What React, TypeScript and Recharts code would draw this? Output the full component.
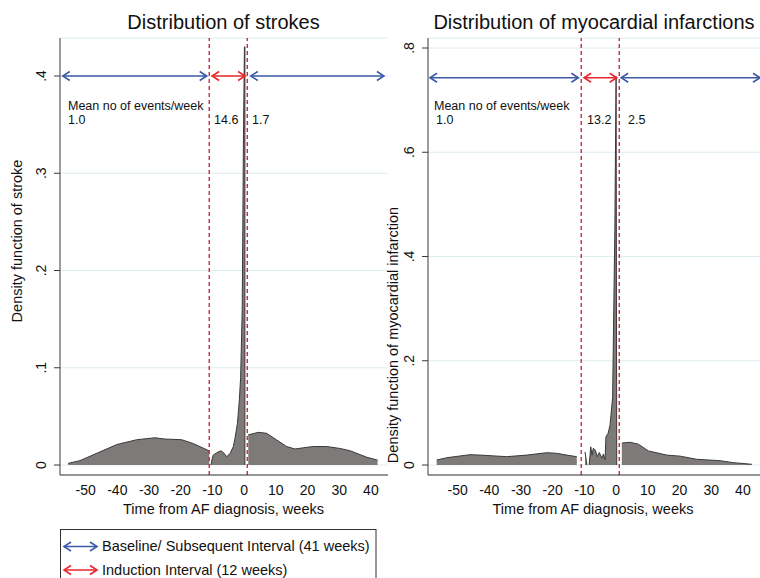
import React from "react";
import { ComposedChart, Area, XAxis, YAxis, CartesianGrid, ReferenceLine } from "recharts";

// ---------- data ----------
const weekTicks = [-50, -40, -30, -20, -10, 0, 10, 20, 30, 40];
const strokeTicks = [0, 0.1, 0.2, 0.3, 0.4];
const miTicks = [0, 0.2, 0.4, 0.6, 0.8];

// Stroke density, baseline interval
const strokeBaseWeeks = [-55.5, -51.8, -46.5, -40.2, -33.9, -28.1, -25, -19.7, -16, -11];
const strokeBaseDensity = [0.0017, 0.0045, 0.012, 0.021, 0.026, 0.028, 0.0267, 0.026, 0.022, 0.0145];
// Stroke density, induction interval
const strokeIndWeeks = [-10.5, -9.8, -8.6, -7.3, -6.3, -5.5, -4.4, -3.4, -2.9, -2.1, -1.5, -1.1, -0.6, -0.2, 0.1, 0.25, 0.25];
const strokeIndDensity = [0, 0.01, 0.0127, 0.0147, 0.012, 0.0085, 0.012, 0.019, 0.027, 0.043, 0.067, 0.09, 0.16, 0.34, 0.43, 0.43, 0];
// Stroke density, subsequent interval
const strokeSubWeeks = [1.3, 4.5, 7.1, 10.3, 13.4, 16, 21.8, 26, 30.3, 33.4, 38.7, 42.1];
const strokeSubDensity = [0.031, 0.0336, 0.0326, 0.0257, 0.019, 0.0165, 0.019, 0.019, 0.017, 0.0147, 0.008, 0.005];

// MI density, baseline interval
const miBaseWeeks = [-56.6, -53.4, -46.1, -42.9, -34.5, -28.2, -21.9, -18.7, -15.6, -12.4];
const miBaseDensity = [0.0096, 0.014, 0.0198, 0.019, 0.016, 0.019, 0.0236, 0.0224, 0.019, 0.016];
// MI density, induction interval (two pieces)
const miIndAWeeks = [-9.8, -9.2];
const miIndADensity = [0.025, 0];
const miIndBWeeks = [-8.5, -8.0, -7.6, -7.2, -6.6, -5.9, -5.3, -4.5, -4.0, -3.5, -3.2, -2.5, -1.9, -1.1, -0.4, 0, 0.2];
const miIndBDensity = [0, 0.035, 0.019, 0.032, 0.029, 0.016, 0.024, 0.013, 0.021, 0.0096, 0.054, 0.061, 0.077, 0.13, 0.45, 0.745, 0];
// MI density, subsequent interval
const miSubWeeks = [1.8, 4.4, 7.0, 10.2, 16, 20.2, 25.4, 32.8, 37, 42.8];
const miSubDensity = [0.042, 0.0436, 0.04, 0.027, 0.019, 0.017, 0.011, 0.0083, 0.0045, 0.0014];

// interval annotations
const strokeMeans = ["1.0", "14.6", "1.7"];
const miMeans = ["1.0", "13.2", "2.5"];
const intervalBounds = [-11, 1];

// ---------- helpers ----------
type Row = { w: number; [k: string]: number | null };

function buildRows(segs: { key: string; xs: number[]; ys: number[] }[]): Row[] {
  const rows: Row[] = [];
  segs.forEach((s) => {
    s.xs.forEach((x, i) => {
      const r: Row = { w: x };
      segs.forEach((o) => (r[o.key] = null));
      r[s.key] = s.ys[i];
      rows.push(r);
    });
  });
  rows.sort((a, b) => a.w - b.w);
  return rows;
}

const strokeRows = buildRows([
  { key: "a", xs: strokeBaseWeeks, ys: strokeBaseDensity },
  { key: "b", xs: strokeIndWeeks, ys: strokeIndDensity },
  { key: "c", xs: strokeSubWeeks, ys: strokeSubDensity },
]);
const miRows = buildRows([
  { key: "a", xs: miBaseWeeks, ys: miBaseDensity },
  { key: "b", xs: miIndAWeeks, ys: miIndADensity },
  { key: "d", xs: miIndBWeeks, ys: miIndBDensity },
  { key: "c", xs: miSubWeeks, ys: miSubDensity },
]);

const FONT = "'Liberation Sans', Arial, Helvetica, sans-serif";
const BLUE = "#3d5aa8";
const RED = "#e8262c";
const DASH = "#cf2a3a";
const AREA_FILL = "#7e7a7a";
const AXIS = "#3a3a3a";

const fmtTick = (v: number) => (v === 0 ? "0" : String(Math.round(v * 10) / 10).replace(/^0/, ""));

const YTick = (props: any) => {
  const { x, y, payload } = props;
  const cx = x - 11;
  return (
    <text
      x={cx}
      y={y}
      transform={`rotate(-90 ${cx} ${y})`}
      textAnchor="middle"
      dominantBaseline="central"
      fontSize={14}
      fontFamily={FONT}
      fill="#111"
    >
      {fmtTick(payload.value)}
    </text>
  );
};

const makeArrow = (color: string) => (p: any) => {
  const x1 = Math.min(p.x1, p.x2);
  const x2 = Math.max(p.x1, p.x2);
  const y = p.y1;
  const h = 7;
  const w = 4.5;
  return (
    <g stroke={color} strokeWidth={1.6} fill="none">
      <line x1={x1} y1={y} x2={x2} y2={y} />
      <polyline points={`${x1 + h},${y - w} ${x1},${y} ${x1 + h},${y + w}`} />
      <polyline points={`${x2 - h},${y - w} ${x2},${y} ${x2 - h},${y + w}`} />
    </g>
  );
};

type PanelProps = {
  rows: Row[];
  keys: string[];
  xDomain: [number, number];
  yDomain: [number, number];
  yTicks: number[];
  arrowY: number;
  arrowSpans: { from: number; to: number; color: string }[];
  width: number;
  yAxisWidth: number;
};

function Panel(p: PanelProps) {
  return (
    <ComposedChart
      width={p.width}
      height={520}
      data={p.rows}
      margin={{ top: 38, right: 0, bottom: 0, left: 0 }}
    >
      <CartesianGrid vertical={false} stroke="#dcecef" strokeWidth={1} />
      <XAxis
        dataKey="w"
        type="number"
        domain={p.xDomain}
        allowDataOverflow
        ticks={weekTicks}
        interval={0}
        height={45}
        tickLine={false}
        tickSize={0}
        tickMargin={10}
        axisLine={{ stroke: AXIS, strokeWidth: 1 }}
        tick={{ fontSize: 14, fontFamily: FONT, fill: "#111" }}
      />
      <YAxis
        type="number"
        domain={p.yDomain}
        allowDataOverflow
        ticks={p.yTicks}
        interval={0}
        width={p.yAxisWidth}
        tickSize={6}
        tickMargin={2}
        tickLine={{ stroke: AXIS }}
        axisLine={{ stroke: AXIS, strokeWidth: 1 }}
        tick={<YTick />}
      />
      {p.keys.map((k) => (
        <Area
          key={k}
          dataKey={k}
          type="linear"
          baseValue={0}
          fill={AREA_FILL}
          fillOpacity={1}
          stroke="#3a3a3a"
          strokeWidth={1}
          connectNulls={false}
          dot={false}
          activeDot={false}
          isAnimationActive={false}
        />
      ))}
      {intervalBounds.map((b) => (
        <ReferenceLine
          key={b}
          x={b}
          stroke={DASH}
          strokeWidth={1.4}
          strokeDasharray="4 3"
          ifOverflow="visible"
        />
      ))}
      {p.arrowSpans.map((s, i) => (
        <ReferenceLine
          key={"ar" + i}
          segment={[
            { x: s.from, y: p.arrowY },
            { x: s.to, y: p.arrowY },
          ]}
          ifOverflow="visible"
          stroke={s.color}
          shape={makeArrow(s.color)}
        />
      ))}
    </ComposedChart>
  );
}

const txt = (x: number, y: number, s: string, size = 12.5, anchor: "start" | "middle" = "start", extra: any = {}) => (
  <text x={x} y={y} fontSize={size} fontFamily={FONT} fill="#111" textAnchor={anchor} {...extra}>
    {s}
  </text>
);

export default function App() {
  return (
    <div
      style={{
        position: "fixed",
        left: 0,
        top: 0,
        width: 760,
        height: 578,
        overflow: "hidden",
        background: "#fff",
      }}
    >
      <div style={{ position: "absolute", left: 0, top: 0 }}>
        <Panel
          rows={strokeRows}
          keys={["a", "b", "c"]}
          xDomain={[-58.08, 45.39]}
          yDomain={[-0.01028, 0.4391]}
          yTicks={strokeTicks}
          arrowY={0.4}
          arrowSpans={[
            { from: -57.2, to: -11.8, color: BLUE },
            { from: -10.1, to: 0.3, color: RED },
            { from: 2.1, to: 44.1, color: BLUE },
          ]}
          width={388}
          yAxisWidth={60}
        />
      </div>
      <div style={{ position: "absolute", left: 380, top: 0 }}>
        <Panel
          rows={miRows}
          keys={["a", "b", "d", "c"]}
          xDomain={[-59.34, 46.66]}
          yDomain={[-0.01918, 0.8192]}
          yTicks={miTicks}
          arrowY={0.743}
          arrowSpans={[
            { from: -58.7, to: -11.9, color: BLUE },
            { from: -10.1, to: 0.2, color: RED },
            { from: 1.6, to: 45.4, color: BLUE },
          ]}
          width={384}
          yAxisWidth={48}
        />
      </div>
      <svg
        width={760}
        height={578}
        style={{ position: "absolute", left: 0, top: 0, pointerEvents: "none" }}
      >
        {/* titles */}
        {txt(223.5, 29, "Distribution of strokes", 20, "middle")}
        {txt(594, 29, "Distribution of myocardial infarctions", 20, "middle")}
        {/* axis titles */}
        {txt(223.5, 513.5, "Time from AF diagnosis, weeks", 14.5, "middle")}
        {txt(593, 513.5, "Time from AF diagnosis, weeks", 14.5, "middle")}
        {txt(16.7, 241, "Density function of stroke", 14.5, "middle", {
          transform: "rotate(-90 16.7 241)",
          dominantBaseline: "central",
        })}
        {txt(393, 335, "Density function of myocardial infarction", 14.5, "middle", {
          transform: "rotate(-90 393 335)",
          dominantBaseline: "central",
        })}
        {/* annotations */}
        {txt(68, 109.5, "Mean no of events/week")}
        {txt(68, 123.5, strokeMeans[0])}
        {txt(214, 123.5, strokeMeans[1])}
        {txt(252, 123.5, strokeMeans[2])}
        {txt(434, 109.5, "Mean no of events/week")}
        {txt(436, 123.5, miMeans[0])}
        {txt(587, 123.5, miMeans[1])}
        {txt(628, 123.5, miMeans[2])}
        {/* legend */}
        <rect x={60.5} y={529.5} width={315.5} height={70} fill="#fff" stroke="#333" strokeWidth={1} />
        {makeArrow(BLUE)({ x1: 64, x2: 97, y1: 546.5, y2: 546.5 })}
        {makeArrow(RED)({ x1: 64, x2: 97, y1: 570, y2: 570 })}
        {txt(102, 551, "Baseline/ Subsequent Interval (41 weeks)", 14.5)}
        {txt(102, 574.5, "Induction Interval (12 weeks)", 14.5)}
      </svg>
    </div>
  );
}
